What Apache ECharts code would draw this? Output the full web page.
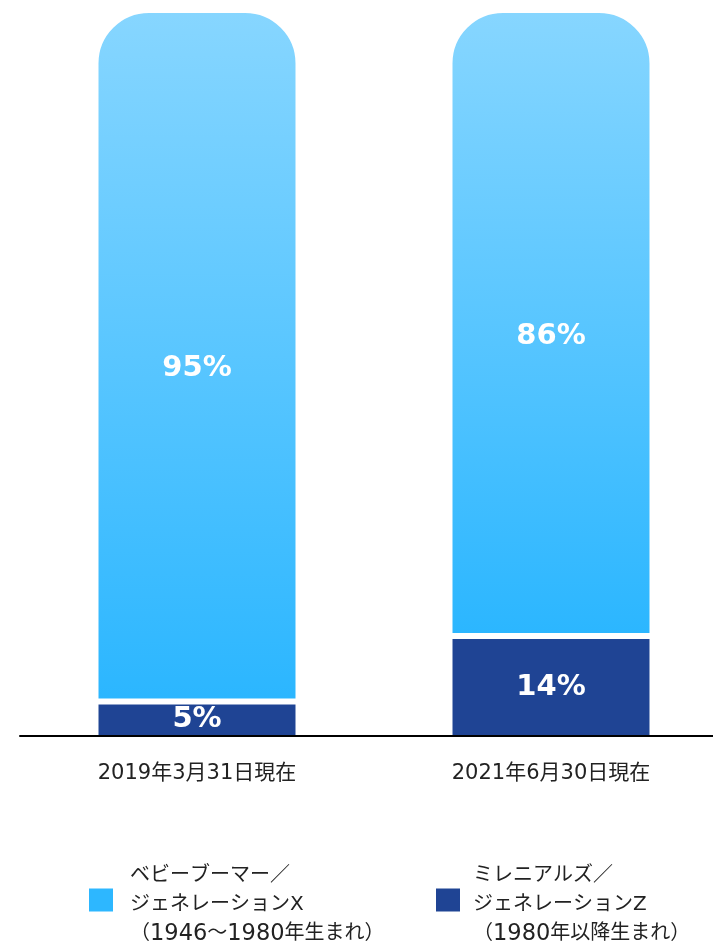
<!DOCTYPE html>
<html><head><meta charset="utf-8">
<script src="https://cdn.jsdelivr.net/npm/echarts@6/dist/echarts.min.js"></script>
<style>html,body{margin:0;padding:0;background:#fff}#c{width:713px;height:942px}</style>
</head><body><div id="c"></div>
<script>
const categories = ['2019年3月31日現在', '2021年6月30日現在'];
const youngerShare = [5, 14];   // ミレニアルズ／ジェネレーションZ (%)
const olderShare = [95, 86];    // ベビーブーマー／ジェネレーションX (%)
const seriesNames = [
  'ミレニアルズ／\nジェネレーションZ\n（1980年以降生まれ）',
  'ベビーブーマー／\nジェネレーションX\n（1946～1980年生まれ）'
];

const FONT = "'DejaVu Sans','Noto Sans CJK JP',sans-serif";
const chart = echarts.init(document.getElementById('c'), null, {renderer: 'canvas'});

function legendFmt(name) {
  return name.split('\n').map(function (s) {
    const body = s.replace(/[0-9]+/g, function (m) { return '}{d|' + m + '}{t|'; });
    return '{p|}{t|' + body + '}';
  }).join('\n');
}
function legendCfg(left, name, color, pad) {
  return {
    left: left, top: 866, padding: 0, orient: 'vertical',
    selectedMode: false, icon: 'rect', itemWidth: 24, itemHeight: 23,
    data: [{name: name, itemStyle: {color: color, borderWidth: 0}}],
    formatter: legendFmt,
    textStyle: {
      padding: [10, 0, 0, 0],
      rich: {
        p: {width: pad, lineHeight: 29},
        t: {fontSize: 20, lineHeight: 29, color: '#222', fontFamily: FONT},
        d: {fontSize: 22.5, lineHeight: 29, color: '#222', fontFamily: FONT}
      }
    }
  };
}

chart.setOption({
  animation: false,
  backgroundColor: '#fff',
  grid: {left: 20, right: -15, top: 10, bottom: 204, containLabel: false, outerBoundsMode: 'none'},
  xAxis: {
    type: 'category', data: categories, z: 10, offset: -2,
    axisLine: {show: true, onZero: false, lineStyle: {color: '#000', width: 2}},
    axisTick: {show: false},
    axisLabel: {fontSize: 21, lineHeight: 22, color: '#222', fontFamily: FONT, margin: 27}
  },
  yAxis: {type: 'value', min: 0, max: 100, show: false, splitLine: {show: false}},
  legend: [
    legendCfg(89, seriesNames[1], '#2DB7FF', 12),
    legendCfg(436, seriesNames[0], '#1F4494', 8)
  ],
  series: [
    {
      name: seriesNames[0], type: 'bar', stack: 'total', barWidth: 203,
      data: youngerShare,
      itemStyle: {color: '#1F4494', borderColor: '#fff', borderWidth: 3},
      label: {show: true, position: 'inside', formatter: '{c}%', color: '#fff',
        fontSize: 29, fontWeight: 'bold', fontFamily: "'DejaVu Sans',sans-serif"}
    },
    {
      name: seriesNames[1], type: 'bar', stack: 'total', barWidth: 203,
      data: olderShare,
      itemStyle: {
        color: new echarts.graphic.LinearGradient(0, 0, 0, 1, [
          {offset: 0, color: '#87D6FF'},
          {offset: 1, color: '#2BB6FF'}
        ]),
        borderColor: '#fff', borderWidth: 3, borderRadius: [52, 52, 0, 0]
      },
      label: {show: true, position: 'inside', offset: [0, 13], formatter: '{c}%', color: '#fff',
        fontSize: 29, fontWeight: 'bold', fontFamily: "'DejaVu Sans',sans-serif"}
    }
  ]
});
</script></body></html>
